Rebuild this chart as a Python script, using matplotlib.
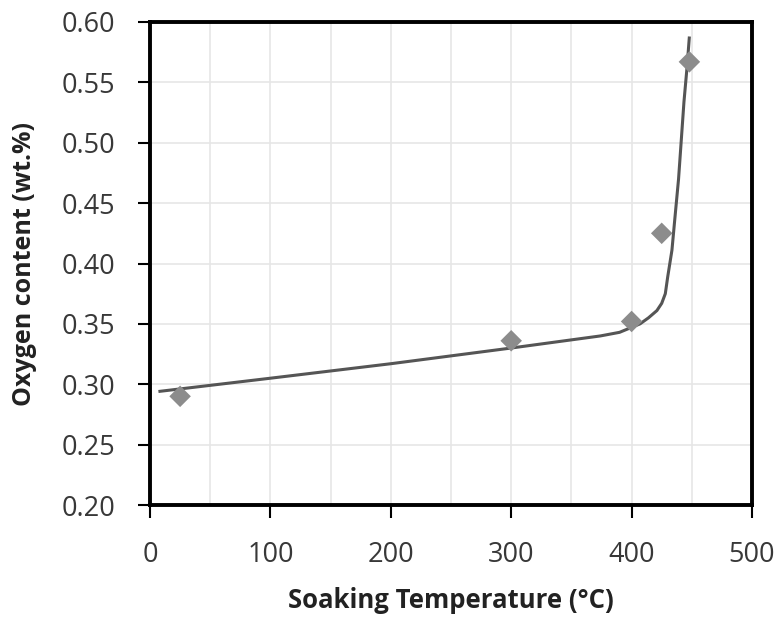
import matplotlib
matplotlib.use("Agg")
import matplotlib.pyplot as plt
from matplotlib.ticker import MultipleLocator

# Measured data points
temp_pts = [25, 300, 400, 425, 448]
oxy_pts = [0.290, 0.336, 0.352, 0.425, 0.567]

# Fitted trend curve
curve_t = [7, 100, 200, 300, 374, 390, 407, 414, 421, 425, 428, 430, 433.5, 436, 439, 443.5, 446, 448]
curve_o = [0.294, 0.305, 0.317, 0.330, 0.340, 0.343, 0.350, 0.355, 0.361, 0.367, 0.375, 0.389, 0.411, 0.438, 0.470, 0.534, 0.562, 0.588]

xticks = [0, 100, 200, 300, 400, 500]
yticks = [0.20, 0.25, 0.30, 0.35, 0.40, 0.45, 0.50, 0.55, 0.60]

plt.rcParams['font.family'] = ['Open Sans', 'DejaVu Sans']

fig = plt.figure(figsize=(7.82, 6.18), dpi=100)
ax = fig.add_axes([150/782, 1 - 505/618, (752-150)/782, (505-22)/618])

ax.set_xlim(0, 500)
ax.set_ylim(0.20, 0.60)
ax.set_xticks(xticks)
ax.set_yticks(yticks)
ax.set_xticklabels([str(t) for t in xticks])
ax.set_yticklabels([f"{v:.2f}" for v in yticks])
ax.xaxis.set_minor_locator(MultipleLocator(50))

ax.grid(True, which='major', color='#e6e6e6', linewidth=1.2, zorder=0)
ax.grid(True, which='minor', axis='x', color='#e6e6e6', linewidth=1.2, zorder=0)
ax.tick_params(which='minor', length=0)
ax.tick_params(which='major', direction='out', length=9, width=1.5, color='black',
               labelsize=19.5, labelcolor='#383838')
ax.tick_params(axis='y', pad=16)
ax.tick_params(axis='x', pad=17)

for s in ax.spines.values():
    s.set_linewidth(2.8)
    s.set_color('black')

ax.plot(curve_t, curve_o, color='#555555', linewidth=2.2, zorder=3,
        solid_capstyle='butt', solid_joinstyle='round')
ax.scatter(temp_pts, oxy_pts, marker='D', s=120, color='#8c8c8c', edgecolors='none', zorder=4)

ax.set_xlabel('Soaking Temperature (°C)', fontsize=18.5, fontweight='bold', color='#222222',
              va='center', ha='center')
ax.xaxis.set_label_coords(0.5, (505 - 600) / 483)
ax.set_ylabel('Oxygen content (wt.%)', fontsize=18, fontweight='bold', color='#222222',
              va='center', ha='center')
ax.yaxis.set_label_coords((25 - 150) / 602, (505 - 264) / 483)

fig.savefig('out.png', dpi=100)
